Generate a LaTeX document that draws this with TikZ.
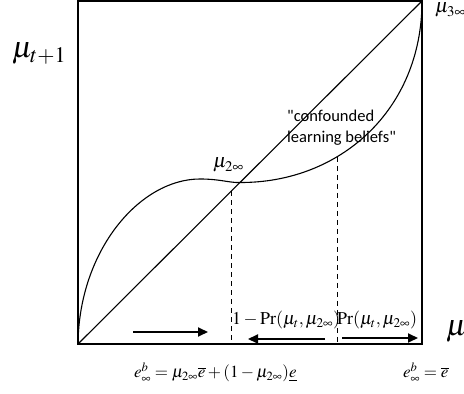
\documentclass[tikz,border=0pt]{standalone}
\usepackage[no-math]{fontspec}
\usepackage{mathptmx}
\setmainfont{Liberation Serif}
\newfontfamily\notefont{Carlito}
\usetikzlibrary{arrows.meta,positioning,calc}

\begin{document}
\begin{tikzpicture}[x=1pt, y=1pt,
  frame/.style={line width=1.4pt},
  curveline/.style={line width=1.1pt},
  guide/.style={line width=1pt, dash pattern=on 5pt off 4pt},
  arr/.style={-{Triangle[length=10pt,width=9pt]}, line width=2pt},
  biglab/.style={font=\fontsize{30}{34}\selectfont, inner sep=0pt, anchor=base west},
  lab/.style={font=\fontsize{20}{24}\selectfont, inner sep=0pt, anchor=base west},
  prlab/.style={font=\fontsize{18}{22}\selectfont, inner sep=0pt, anchor=base west},
  eqlab/.style={font=\fontsize{17}{20}\selectfont, inner sep=0pt, anchor=base west},
  note/.style={font=\notefont\fontsize{16.5}{21}\selectfont, inner sep=0pt, align=left, anchor=west}
]
  \useasboundingbox (-78,-50) rectangle (386,344);
  % box and 45-degree line
  \coordinate (origin) at (0,0);
  \coordinate (topright) at (344,343);
  \draw[frame] (origin) rectangle (topright);
  \draw[curveline] (origin) -- (topright);
  % belief dynamics
  \coordinate (fix2) at (162,161.5);
  \draw[curveline] (origin) .. controls (1,94) and (62,165) .. (122,165)
    .. controls (142,165) and (152,161) .. (fix2)
    .. controls (262,161) and (344,234) .. (topright);
  % dashed guides
  \coordinate (d1top) at (153,152.5);
  \coordinate (d1bot) at (153,0);
  \coordinate (d2top) at (259,187);
  \coordinate (d2bot) at (259,0);
  \draw[guide] (d1top) -- (d1bot);
  \draw[guide] (d2top) -- (d2bot);
  % direction arrows
  \coordinate (a1s) at (55,12);
  \coordinate (a1e) at (130,12);
  \coordinate (a2s) at (247,5);
  \coordinate (a2e) at (170,5);
  \coordinate (a3s) at (264,6);
  \coordinate (a3e) at (340,6);
  \draw[arr] (a1s) -- (a1e);
  \draw[arr] (a2s) -- (a2e);
  \draw[arr] (a3s) -- (a3e);
  % labels
  \node[biglab] (yaxis) at (-66,286) {$\mu_{t+1}$};
  \node[biglab] (xaxis) at (368,8) {$\mu_t$};
  \node[lab] (mu3) at (357,331) {$\mu_{3\infty}$};
  \node[lab] (mu2) at (135,176) {$\mu_{2\infty}$};
  \node[note] (confounded) at (209,216.5) {"confounded\\learning beliefs"};
  \node[prlab] (prdown) at (154,19) {$1-\Pr(\mu_t,\mu_{2\infty})$};
  \node[prlab] (prup) at (259,19) {$\Pr(\mu_t,\mu_{2\infty})$};
  \node[eqlab] (eqlow) at (56,-34) {$e^b_\infty=\mu_{2\infty}\overline{e}+(1-\mu_{2\infty})\underline{e}$};
  \node[eqlab] (eqhigh) at (325,-34) {$e^b_\infty=\overline{e}$};
\end{tikzpicture}
\end{document}
